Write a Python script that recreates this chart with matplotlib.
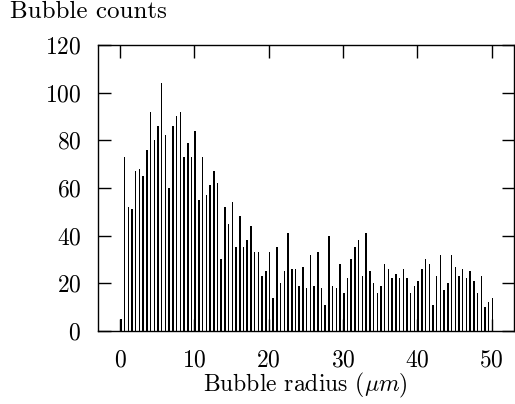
import numpy as np
import matplotlib.pyplot as plt

plt.rcParams['font.family'] = 'serif'
plt.rcParams['font.serif'] = ['cmr10', 'DejaVu Serif']
plt.rcParams['mathtext.fontset'] = 'cm'
plt.rcParams['axes.formatter.use_mathtext'] = True

# bubble radius bins (um), step 0.5
radius = np.arange(0, 50.01, 0.5)
counts = [
    5, 73, 52, 51, 67, 68, 65, 76, 92, 80,
    86, 104, 82, 60, 86, 90, 92, 73, 79, 73,
    84, 55, 73, 57, 61, 67, 62, 30, 52, 45,
    54, 35, 48, 35, 38, 44, 33, 33, 23, 25,
    33, 14, 35, 20, 25, 41, 26, 26, 19, 27,
    18, 32, 19, 33, 18, 11, 40, 19, 18, 28,
    16, 22, 30, 35, 38, 23, 41, 25, 20, 16,
    19, 28, 26, 22, 24, 22, 26, 22, 16, 19,
    21, 26, 30, 28, 11, 23, 32, 17, 20, 32,
    27, 23, 26, 22, 25, 21, 16, 23, 10, 12,
    14,
]
xticks = [0, 10, 20, 30, 40, 50]
yticks = [0, 20, 40, 60, 80, 100, 120]

fig = plt.figure(figsize=(5.15, 4.04), dpi=100)
ax = fig.add_axes([0.19, 0.181, 0.808, 0.708])

ax.bar(radius, counts, width=0.2, align='edge', color='black', linewidth=0)

ax.set_xlim(-3, 53)
ax.set_ylim(0, 120)
ax.set_xticks(xticks)
ax.set_yticks(yticks)
ax.tick_params(direction='in', length=9, width=1, top=True, right=True,
               labelsize=17)
ax.tick_params(axis='x', pad=13)
ax.tick_params(axis='y', pad=12)
for s in ax.spines.values():
    s.set_linewidth(1)

ax.set_xlabel(r'Bubble radius ($\mu m$)', fontsize=17, labelpad=0)
fig.text(0.02, 0.97, 'Bubble counts', fontsize=18, ha='left', va='center')

fig.savefig('out.png', dpi=100)
